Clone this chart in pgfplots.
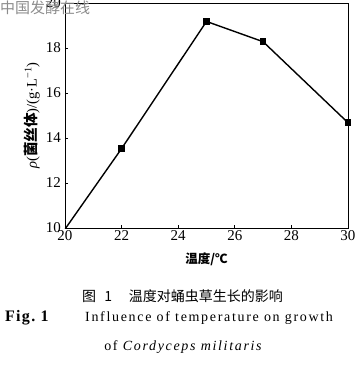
\documentclass[border=0pt]{standalone}
\usepackage{fontspec}
\usepackage{pgfplots}
\pgfplotsset{compat=1.18}
\setmainfont{Liberation Serif}
\newfontfamily\cjk{Noto Sans CJK SC}
\newfontfamily\capfont[LetterSpace=12]{Liberation Serif}
\newfontfamily\figfont[LetterSpace=8]{Liberation Serif}
\begin{document}
\begin{tikzpicture}[x=1pt,y=1pt]
\useasboundingbox (0,0) rectangle (363,365);
\begin{axis}[
  at={(65pt,137pt)}, anchor=south west,
  scale only axis, width=283pt, height=225pt,
  xmin=20, xmax=30, ymin=10, ymax=20,
  xtick={20,22,24,26,28,30}, ytick={10,12,14,16,18,20},
  tick align=inside, xtick pos=bottom, ytick pos=left,
  major tick length=3pt,
  axis line style={line width=0.8pt},
  tick style={line width=0.6pt, black},
  /pgf/number format/assume math mode=true,
  tick label style={font=\fontsize{15}{16}\selectfont},
  yticklabel style={xshift=-0.5pt},
  xticklabel style={yshift=1pt},
  xlabel={\cjk\bfseries 温度/℃},
  xlabel style={at={(axis description cs:0.5,-0.138)}, anchor=center, font=\fontsize{12.5}{13}\selectfont},
  ylabel={\itshape ρ\upshape(\cjk\bfseries 菌丝体\normalfont)/(g·L\textsuperscript{−1})},
  ylabel style={at={(axis description cs:-0.117,0.5)}, anchor=center, font=\fontsize{14.5}{15}\selectfont},
]
\addplot[black, line width=1.4pt, mark=square*, mark size=2.6pt] coordinates {
(20,9.95) (22,13.53) (25,19.18) (27,18.28) (30,14.68)
};
\end{axis}
\node[anchor=west, text=black!45, font=\cjk\fontsize{15}{16}\selectfont, inner sep=0pt] at (0,357) {中国发酵在线};
\node[anchor=center, font=\cjk\fontsize{14}{15}\selectfont, inner sep=0pt] at (182.5,69) {图\hspace{0.6em}1\hspace{1.2em}温度对蛹虫草生长的影响};
\node[anchor=west, font=\figfont\bfseries\fontsize{16}{17}\selectfont, inner sep=0pt] at (5,47) {Fig.\ 1};
\node[anchor=west, font=\capfont\fontsize{14}{15}\selectfont, inner sep=0pt] at (85,47) {Influence of temperature on growth};
\node[anchor=center, font=\capfont\fontsize{14}{15}\selectfont, inner sep=0pt] at (183,18) {of \itshape Cordyceps militaris};
\end{tikzpicture}
\end{document}
